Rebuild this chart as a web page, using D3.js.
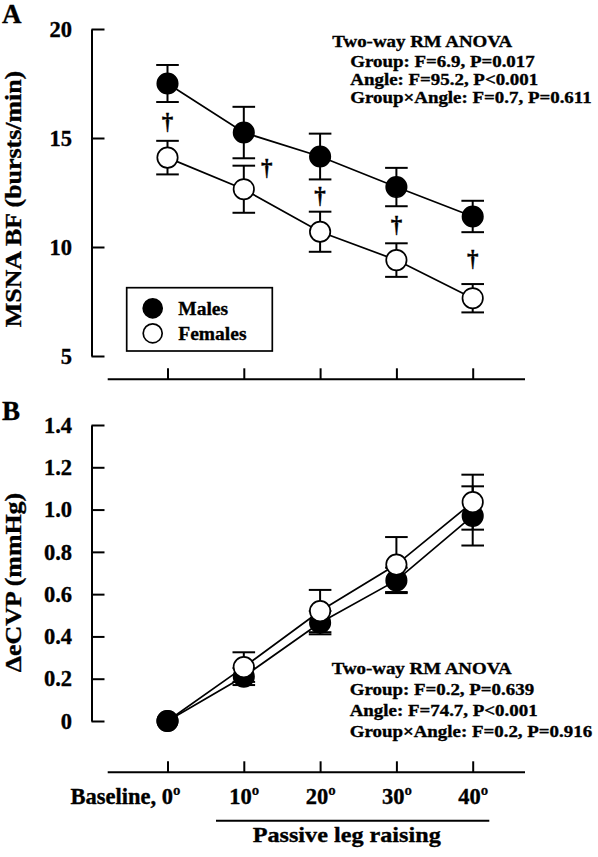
<!DOCTYPE html>
<html>
<head>
<meta charset="utf-8">
<script src="https://cdn.jsdelivr.net/npm/d3@7/dist/d3.min.js"></script>
<style>
  html, body { margin: 0; padding: 0; background: #fff; }
  svg text { font-family: "Liberation Serif", "Times New Roman", serif; font-weight: bold; fill: #000; stroke: #000; stroke-width: 0.35px; }
</style>
</head>
<body>
<div id="chart"></div>
<script>
// ---------------- data ----------------
const categories = ["Baseline, 0º", "10º", "20º", "30º", "40º"];

const msnaMales = [17.5, 15.25, 14.15, 12.75, 11.4];
const msnaMalesErr = [0.85, 1.18, 1.05, 0.88, 0.72];
const msnaFemales = [14.1, 12.65, 10.7, 9.4, 7.65];
const msnaFemalesErr = [0.77, 1.08, 0.92, 0.77, 0.65];
const msnaTicks = [5, 10, 15, 20];
const msnaDaggers = [0, 1, 2, 3, 4];

const cvpMales = [0, 0.21, 0.465, 0.665, 0.97];
const cvpMalesErr = [0, 0.04, 0.055, 0.06, 0.14];
const cvpFemales = [0, 0.255, 0.52, 0.74, 1.035];
const cvpFemalesErr = [0, 0.07, 0.10, 0.13, 0.13];
const cvpTicks = [0, 0.2, 0.4, 0.6, 0.8, 1.0, 1.2, 1.4];

const legendLabels = ["Males", "Females"];
const anovaA = ["Two-way RM ANOVA", "Group: F=6.9, P=0.017", "Angle: F=95.2, P<0.001", "Group\u00D7Angle: F=0.7, P=0.611"];
const anovaB = ["Two-way RM ANOVA", "Group: F=0.2, P=0.639", "Angle: F=74.7, P<0.001", "Group\u00D7Angle: F=0.2, P=0.916"];

// ---------------- setup ----------------
const W = 598, H = 857;
const svg = d3.select("#chart").append("svg").attr("width", W).attr("height", H);
svg.append("rect").attr("width", W).attr("height", H).attr("fill", "#fff");

const SW = 2;
const axisX = 91.5;
const xLineStart = 107.7, xLineEnd = 525;

const x = d3.scalePoint().domain(categories).range([167.5, 472.7]);

function txt(parent, px, py, s, o) {
  return parent.append("text")
    .attr("transform", `translate(${px},${py})` + (o.rot ? ` rotate(${o.rot})` : "") + ` scale(${o.sx || 1},1)`)
    .attr("text-anchor", o.anchor || "start")
    .attr("font-size", o.size)
    .text(s);
}

function styleAxis(g, fs) {
  g.selectAll("path, line").attr("stroke", "#000").attr("stroke-width", SW);
  g.selectAll("text").attr("font-size", fs).attr("fill", "#000");
}

function drawPanel(cfg) {
  const g = svg.append("g");
  const y = d3.scaleLinear().domain(cfg.domain).range(cfg.range);

  // y axis
  const ya = g.append("g").attr("transform", `translate(${axisX},0)`)
    .call(d3.axisLeft(y).tickValues(cfg.ticks).tickSize(-13).tickSizeOuter(0).tickPadding(19.5).tickFormat(cfg.fmt));
  styleAxis(ya, cfg.tickFs);

  // x axis
  const xa = g.append("g").attr("transform", `translate(0,${cfg.xAxisY})`)
    .call(d3.axisBottom(x).tickSize(-11).tickSizeOuter(0).tickPadding(16).tickFormat(cfg.showX ? (d => d) : ""));
  xa.select(".domain").remove();
  styleAxis(xa, 22.5);
  xa.append("line").attr("x1", xLineStart).attr("x2", xLineEnd).attr("y1", 0).attr("y2", 0)
    .attr("stroke", "#000").attr("stroke-width", SW);
  if (cfg.showX) {
    xa.selectAll(".tick text").filter((d, i) => i === 0).attr("text-anchor", "end").attr("x", 12.5);
  }

  // y title
  txt(g, 21, cfg.titleY, cfg.title, { rot: -90, anchor: "middle", size: 22.5, sx: 1.15 });
  // panel letter
  txt(g, 2, cfg.letterY, cfg.letter, { size: 27 });

  const series = [
    { v: cfg.males, e: cfg.malesErr, fill: "#000" },
    { v: cfg.females, e: cfg.femalesErr, fill: "#fff" }
  ];
  const line = d3.line().x((d, i) => x(categories[i])).y(d => y(d));
  series.forEach(s => {
    g.append("path").datum(s.v).attr("d", line).attr("fill", "none").attr("stroke", "#000").attr("stroke-width", 1.7);
  });
  series.forEach(s => {
    const eg = g.append("g");
    s.v.forEach((v, i) => {
      const e = s.e[i];
      if (!e) return;
      const cx = x(categories[i]);
      eg.append("line").attr("x1", cx).attr("x2", cx).attr("y1", y(v - e)).attr("y2", y(v + e))
        .attr("stroke", "#000").attr("stroke-width", SW);
      [v - e, v + e].forEach(b => {
        eg.append("line").attr("x1", cx - 11.3).attr("x2", cx + 11.3).attr("y1", y(b)).attr("y2", y(b))
          .attr("stroke", "#000").attr("stroke-width", SW);
      });
    });
  });
  // circles: females over males, except where both points coincide (males on top)
  const pts = [];
  cfg.females.forEach((v, i) => { if (v !== cfg.males[i]) pts.push({ i, v, fill: "#fff", z: 0 }); });
  cfg.males.forEach((v, i) => pts.push({ i, v, fill: "#000", z: v === cfg.females[i] ? 1 : -1 }));
  cfg.females.forEach((v, i) => { if (v === cfg.males[i]) pts.push({ i, v, fill: "#fff", z: 0.5 }); });
  pts.sort((a, b) => a.z - b.z);
  g.append("g").selectAll("circle").data(pts).join("circle")
    .attr("cx", d => x(categories[d.i])).attr("cy", d => y(d.v)).attr("r", 10.2)
    .attr("fill", d => d.fill).attr("stroke", "#000").attr("stroke-width", 1.7);

  // ANOVA text
  cfg.anova.forEach((s, i) => {
    const bx = i === 0 ? cfg.anovaX : cfg.anovaX + 18;
    txt(g, bx, cfg.anovaY[i], s, { size: 16.8, sx: 1.125 });
  });
  return { g, y };
}

// ---------------- Panel A ----------------
const A = drawPanel({
  domain: [5, 20], range: [356, 29], ticks: msnaTicks, fmt: d3.format("d"), tickFs: 22.5,
  xAxisY: 379.3, showX: false,
  title: "MSNA BF (bursts/min)", titleY: 199, letter: "A", letterY: 22.5,
  males: msnaMales, malesErr: msnaMalesErr, females: msnaFemales, femalesErr: msnaFemalesErr,
  anova: anovaA, anovaX: 332.3, anovaY: [46.5, 66.5, 84.5, 102.5]
});

// daggers
msnaDaggers.forEach(i => {
  const yLow = A.y(msnaMales[i] - msnaMalesErr[i]);
  const yHigh = A.y(msnaFemales[i] + msnaFemalesErr[i]);
  let cx = x(categories[i]);
  let cy = (yLow + yHigh) / 2;
  if (yHigh - yLow < 20) { cx += 23; cy += 6; }
  txt(A.g, cx, cy + 7.5, "\u2020", { size: 23, anchor: "middle" });
});

// legend
const lg = A.g.append("g");
lg.append("rect").attr("x", 126.7).attr("y", 287.7).attr("width", 145.6).attr("height", 63.3)
  .attr("fill", "#fff").attr("stroke", "#000").attr("stroke-width", 1.7);
legendLabels.forEach((l, i) => {
  const cy = 308.3 + i * 25;
  lg.append("circle").attr("cx", 152.7).attr("cy", cy).attr("r", 9.5)
    .attr("fill", i === 0 ? "#000" : "#fff").attr("stroke", "#000").attr("stroke-width", 1.7);
  txt(lg, 178.3, cy + 7, l, { size: 19.5 });
});

// ---------------- Panel B ----------------
drawPanel({
  domain: [0, 1.4], range: [721, 425], ticks: cvpTicks, fmt: d => d === 0 ? "0" : d3.format(".1f")(d), tickFs: 22.5,
  xAxisY: 772.3, showX: true,
  title: "\u0394eCVP (mmHg)", titleY: 582.5, letter: "B", letterY: 419.5,
  males: cvpMales, malesErr: cvpMalesErr, females: cvpFemales, femalesErr: cvpFemalesErr,
  anova: anovaB, anovaX: 331.7, anovaY: [673.5, 694.5, 715.5, 736.5]
});

// passive leg raising bracket
svg.append("line").attr("x1", 216).attr("x2", 489.3).attr("y1", 820.7).attr("y2", 820.7)
  .attr("stroke", "#000").attr("stroke-width", SW);
txt(svg, 346.7, 842, "Passive leg raising", { size: 22, sx: 1.1, anchor: "middle" });
</script>
</body>
</html>
